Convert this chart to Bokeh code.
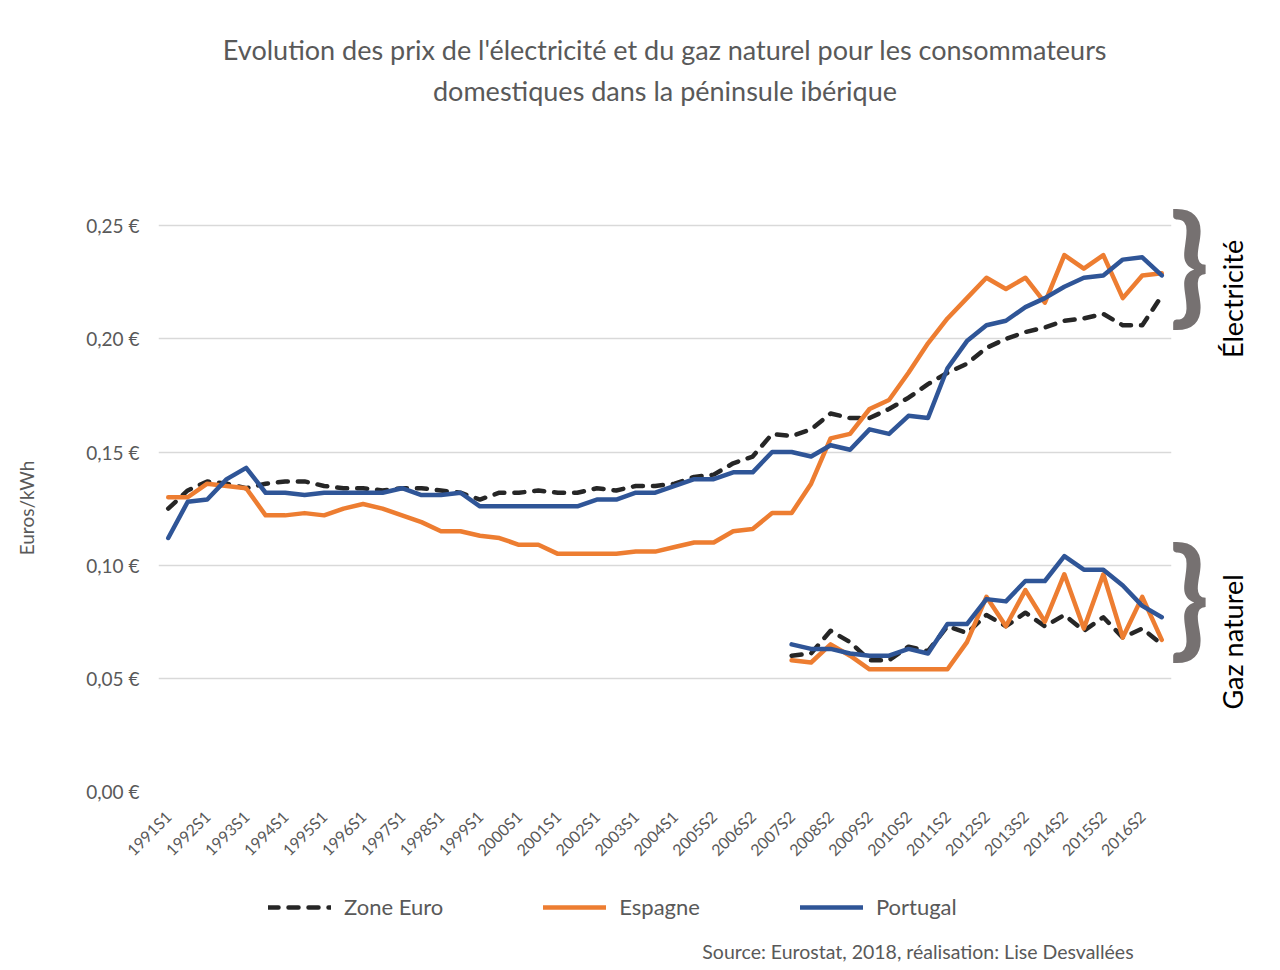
import math
from bokeh.plotting import figure
from bokeh.layouts import column
from bokeh.models import (Range1d, FixedTicker, CustomJSTickFormatter, Title,
                          Legend, LegendItem, LinearAxis, Label)
from bokeh.embed import file_html
from bokeh.resources import INLINE

# ---------------- data ----------------
periods = [
    "1991S1", "1991S2", "1992S1", "1992S2", "1993S1", "1993S2", "1994S1", "1994S2",
    "1995S1", "1995S2", "1996S1", "1996S2", "1997S1", "1997S2", "1998S1", "1998S2",
    "1999S1", "1999S2", "2000S1", "2000S2", "2001S1", "2001S2", "2002S1", "2002S2",
    "2003S1", "2003S2", "2004S1", "2004S2", "2005S2", "2006S1", "2006S2", "2007S1",
    "2007S2", "2008S1", "2008S2", "2009S1", "2009S2", "2010S1", "2010S2", "2011S1",
    "2011S2", "2012S1", "2012S2", "2013S1", "2013S2", "2014S1", "2014S2", "2015S1",
    "2015S2", "2016S1", "2016S2", "2017S1",
]

elec_zone_euro = [
    0.125, 0.133, 0.137, 0.136, 0.134, 0.136, 0.137, 0.137, 0.135, 0.134,
    0.134, 0.133, 0.134, 0.134, 0.133, 0.132, 0.129, 0.132, 0.132, 0.133,
    0.132, 0.132, 0.134, 0.133, 0.135, 0.135, 0.136, 0.139, 0.140, 0.145,
    0.148, 0.158, 0.157, 0.160, 0.167, 0.165, 0.165, 0.169, 0.174, 0.180,
    0.185, 0.189, 0.196, 0.200, 0.203, 0.205, 0.208, 0.209, 0.211, 0.206,
    0.206, 0.219,
]
elec_espagne = [
    0.130, 0.130, 0.136, 0.135, 0.134, 0.122, 0.122, 0.123, 0.122, 0.125,
    0.127, 0.125, 0.122, 0.119, 0.115, 0.115, 0.113, 0.112, 0.109, 0.109,
    0.105, 0.105, 0.105, 0.105, 0.106, 0.106, 0.108, 0.110, 0.110, 0.115,
    0.116, 0.123, 0.123, 0.136, 0.156, 0.158, 0.169, 0.173, 0.185, 0.198,
    0.209, 0.218, 0.227, 0.222, 0.227, 0.216, 0.237, 0.231, 0.237, 0.218,
    0.228, 0.229,
]
elec_portugal = [
    0.112, 0.128, 0.129, 0.138, 0.143, 0.132, 0.132, 0.131, 0.132, 0.132,
    0.132, 0.132, 0.134, 0.131, 0.131, 0.132, 0.126, 0.126, 0.126, 0.126,
    0.126, 0.126, 0.129, 0.129, 0.132, 0.132, 0.135, 0.138, 0.138, 0.141,
    0.141, 0.150, 0.150, 0.148, 0.153, 0.151, 0.160, 0.158, 0.166, 0.165,
    0.187, 0.199, 0.206, 0.208, 0.214, 0.218, 0.223, 0.227, 0.228, 0.235,
    0.236, 0.228,
]

gas_periods = periods[32:]
gas_zone_euro = [0.060, 0.061, 0.071, 0.066, 0.058, 0.058, 0.064, 0.062, 0.073, 0.070,
                 0.078, 0.073, 0.079, 0.073, 0.078, 0.071, 0.077, 0.068, 0.072, 0.065]
gas_espagne = [0.058, 0.057, 0.065, 0.060, 0.054, 0.054, 0.054, 0.054, 0.054, 0.066,
               0.086, 0.073, 0.089, 0.075, 0.096, 0.072, 0.096, 0.068, 0.086, 0.067]
gas_portugal = [0.065, 0.063, 0.063, 0.061, 0.060, 0.060, 0.063, 0.061, 0.074, 0.074,
                0.085, 0.084, 0.093, 0.093, 0.104, 0.098, 0.098, 0.091, 0.082, 0.077]

y_ticks = [0.0, 0.05, 0.10, 0.15, 0.20, 0.25]
series_names = ["Zone Euro", "Espagne", "Portugal"]
group_names = ["Électricité", "Gaz naturel"]
y_title = "Euros/kWh"

title_lines = ["Evolution des prix de l'électricité et du gaz naturel pour les consommateurs",
               "domestiques dans la péninsule ibérique"]
source_text = "Source: Eurostat, 2018, réalisation: Lise Desvallées"

# ---------------- styling / geometry ----------------
FONT = "Lato"
GRAY = "#595959"
C_ZONE = "#262626"
C_ESP = "#ED7D31"
C_POR = "#2F5597"
BRACE = "#767171"
LW = 4.5
DASH = "10 10"

Y_TOP = 0.30            # blank head-room above the 0,25 gridline (no tick there)
ML, MT, FW, FH = 155, 112, 1013, 679
MR, MB = 104, 70
W = ML + FW + MR
H2 = 100                # strip under the chart: legend + source

n = len(periods)
x_all = list(range(n))
x_gas = [periods.index(p) for p in gas_periods]

p = figure(frame_width=FW, frame_height=FH, output_backend="svg", toolbar_location=None,
           title=None,
           min_border_left=ML, min_border_right=MR, min_border_top=MT, min_border_bottom=MB,
           x_range=Range1d(-0.5, n - 0.5), y_range=Range1d(0, Y_TOP))
p.outline_line_color = None
p.background_fill_color = "white"
p.border_fill_color = "white"

# annotation placement (in y units): braces, group labels, y title
brace_pos = [0.235, 0.0875]
group_pos = [0.1915, 0.0362]
y_title_pos = [0.1462]

# grid & axes
p.xgrid.grid_line_color = None
p.ygrid.grid_line_color = "#d9d9d9"
p.ygrid.grid_line_width = 1.5
p.yaxis.ticker = FixedTicker(ticks=y_ticks)
p.yaxis.formatter = CustomJSTickFormatter(code="return tick.toFixed(2).replace('.', ',') + ' €';")
p.xaxis.ticker = FixedTicker(ticks=list(range(0, n, 2)))
p.xaxis.major_label_overrides = {i: periods[i] for i in range(0, n, 2)}
p.xaxis.major_label_orientation = math.pi / 4

ytitle_axis = LinearAxis(ticker=FixedTicker(ticks=y_title_pos),
                         major_label_overrides={y_title_pos[0]: y_title})
p.add_layout(ytitle_axis, "left")
brace_axis = LinearAxis(ticker=FixedTicker(ticks=brace_pos),
                        major_label_overrides={v: "}" for v in brace_pos})
group_axis = LinearAxis(ticker=FixedTicker(ticks=group_pos),
                        major_label_overrides={v: t for v, t in zip(group_pos, group_names)})
p.add_layout(brace_axis, "right")
p.add_layout(group_axis, "right")

for ax in (p.xaxis[0], p.yaxis[0], ytitle_axis, brace_axis, group_axis):
    ax.axis_line_color = None
    ax.major_tick_line_color = None
    ax.minor_tick_line_color = None
    ax.major_label_text_font = FONT
    ax.major_label_text_color = GRAY

ytitle_axis.major_label_text_font_size = "19px"
ytitle_axis.major_label_orientation = math.pi / 2
ytitle_axis.major_label_standoff = 51

brace_axis.major_label_text_font_size = "130px"
brace_axis.major_label_text_font_style = "bold"
brace_axis.major_label_text_color = BRACE
brace_axis.major_label_standoff = -8
group_axis.major_label_text_font_size = "27px"
group_axis.major_label_text_color = "black"
group_axis.major_label_orientation = math.pi / 2
group_axis.major_label_standoff = 14

p.yaxis[0].major_label_text_font_size = "19px"
p.yaxis[0].major_label_standoff = 13
p.xaxis.major_label_text_font_size = "16px"
p.xaxis.major_label_standoff = 16

p.line(x_all, elec_zone_euro, line_color=C_ZONE, line_width=LW,
       line_dash=DASH, line_cap="round", line_join="round")
p.line(x_all, elec_espagne, line_color=C_ESP, line_width=LW,
       line_cap="round", line_join="round")
p.line(x_all, elec_portugal, line_color=C_POR, line_width=LW,
       line_cap="round", line_join="round")
p.line(x_gas, gas_zone_euro, line_color=C_ZONE, line_width=LW,
       line_dash=DASH, line_cap="round", line_join="round")
p.line(x_gas, gas_espagne, line_color=C_ESP, line_width=LW,
       line_cap="round", line_join="round")
p.line(x_gas, gas_portugal, line_color=C_POR, line_width=LW,
       line_cap="round", line_join="round")

# title (line nearest the frame is added first)
p.add_layout(Title(text=title_lines[1], align="center", standoff=12,
                   text_font=FONT, text_font_size="27px", text_font_style="normal",
                   text_color=GRAY), "above")
p.add_layout(Title(text=title_lines[0], align="center", standoff=0,
                   text_font=FONT, text_font_size="27px", text_font_style="normal",
                   text_color=GRAY), "above")

# ---------------- strip with legend and source ----------------
# (its frame is aligned with the chart frame by the column layout; units = pixels)
p2 = figure(width=W, height=H2, output_backend="svg", toolbar_location=None, title=None,
            x_axis_location=None, y_axis_location=None, min_border=0,
            x_range=Range1d(0, FW), y_range=Range1d(0, H2))
p2.grid.visible = False
p2.outline_line_color = None
p2.background_fill_color = "white"
p2.border_fill_color = "white"

nan = [float("nan")]   # legend-only renderers: nothing to draw in the strip itself
s_zone = p2.line(x=nan, y=nan, line_color=C_ZONE, line_width=LW, line_dash=DASH,
                 line_cap="round")
s_esp = p2.line(x=nan, y=nan, line_color=C_ESP, line_width=LW, line_cap="round")
s_por = p2.line(x=nan, y=nan, line_color=C_POR, line_width=LW, line_cap="round")

legend = Legend(items=[LegendItem(label=series_names[0], renderers=[s_zone]),
                       LegendItem(label=series_names[1], renderers=[s_esp]),
                       LegendItem(label=series_names[2], renderers=[s_por])],
                orientation="horizontal", location=(110, 48),
                glyph_width=63, glyph_height=20, label_standoff=13, spacing=100,
                padding=0, margin=0, border_line_alpha=0, background_fill_alpha=0,
                label_text_font=FONT, label_text_font_size="22px",
                label_text_color=GRAY)
p2.add_layout(legend)

p2.add_layout(Label(x=978, y=17, text=source_text, text_align="right",
                    text_baseline="middle", text_font=FONT, text_font_size="19.5px",
                    text_color=GRAY))

open("out.html", "w").write(file_html(column(p, p2, spacing=0), INLINE))
